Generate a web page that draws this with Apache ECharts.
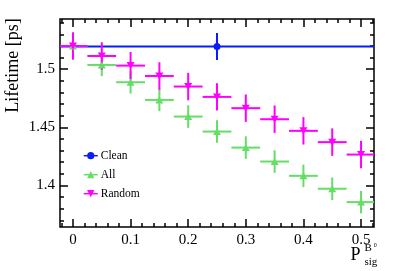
<!DOCTYPE html>
<html>
<head>
<meta charset="utf-8">
<script src="https://cdn.jsdelivr.net/npm/echarts@6/dist/echarts.min.js"></script>
<style>html,body{margin:0;padding:0;background:#fff;}#c{width:399px;height:271px;}</style>
</head>
<body>
<div id="c"></div>
<script>
// ---- data ----
const xBins = [0, 0.05, 0.1, 0.15, 0.2, 0.25, 0.3, 0.35, 0.4, 0.45, 0.5];
const allLifetime = [1.5200, 1.5037, 1.4888, 1.4736, 1.4593, 1.4464, 1.4326, 1.4206, 1.4083, 1.3972, 1.3857];
const allErr = [0.0097, 0.0097, 0.0097, 0.0097, 0.0097, 0.0097, 0.0097, 0.0097, 0.0097, 0.0097, 0.0097];
const randomLifetime = [1.5200, 1.5114, 1.5031, 1.4942, 1.4851, 1.4762, 1.4665, 1.4570, 1.4470, 1.4373, 1.4266];
const randomErr = [0.0118, 0.0118, 0.0118, 0.0118, 0.0118, 0.0118, 0.0118, 0.0118, 0.0118, 0.0118, 0.0118];
const binHalfWidth = 0.025;
const cleanX = [0.25];
const cleanLifetime = [1.5196];
const cleanErr = [0.0116];
const cleanHalfWidth = 0.275;
const xMajorTicks = [0, 0.1, 0.2, 0.3, 0.4, 0.5];
const xMinorTicks = [-0.02, 0.02, 0.04, 0.06, 0.08, 0.12, 0.14, 0.16, 0.18, 0.22, 0.24, 0.26, 0.28,
  0.32, 0.34, 0.36, 0.38, 0.42, 0.44, 0.46, 0.48, 0.52];
const yMajorTicks = [1.4, 1.45, 1.5];
const yMinorTicks = [1.37, 1.38, 1.39, 1.41, 1.42, 1.43, 1.44, 1.46, 1.47, 1.48, 1.49, 1.51, 1.52, 1.53, 1.54];
const xRange = [-0.0225, 0.5225];
const yRange = [1.3643, 1.5432];

// ---- style ----
const FONT = 'Liberation Serif';
const BLUE = '#0a1cff', GREEN = '#66dd66', MAGENTA = '#ff00ff';
const DOWN_TRI = 'path://M0,0 L10,0 L5,9 Z';
const GRID_RECT = { left: 60, right: 25, top: 19, bottom: 44 };

function errRender(color) {
  return function (params, api) {
    const x = api.value(0), y = api.value(1), dx = api.value(2), dy = api.value(3);
    const cs = params.coordSys;
    const cl = v => Math.max(cs.x, Math.min(cs.x + cs.width, v));
    const p0 = api.coord([x - dx, y]), p1 = api.coord([x + dx, y]);
    const q0 = api.coord([x, y - dy]), q1 = api.coord([x, y + dy]);
    return {
      type: 'group', children: [
        { type: 'line', shape: { x1: cl(p0[0]), y1: p0[1], x2: cl(p1[0]), y2: p1[1] }, style: { stroke: color, lineWidth: 2 } },
        { type: 'line', shape: { x1: q0[0], y1: q0[1], x2: q1[0], y2: q1[1] }, style: { stroke: color, lineWidth: 2 } }
      ]
    };
  };
}

const allErrData = xBins.map((x, i) => [x, allLifetime[i], binHalfWidth, allErr[i]]);
const randErrData = xBins.map((x, i) => [x, randomLifetime[i], binHalfWidth, randomErr[i]]);
const cleanErrData = cleanX.map((x, i) => [x, cleanLifetime[i], cleanHalfWidth, cleanErr[i]]);

function xAxisDef(gi, pos, ticks, len, labels) {
  return {
    type: 'value', gridIndex: gi, position: pos, min: xRange[0], max: xRange[1],
    axisLine: { show: false, onZero: false }, splitLine: { show: false },
    axisTick: { show: true, inside: true, length: len, customValues: ticks, lineStyle: { color: '#000', width: 1.5 } },
    axisLabel: labels ? { show: true, customValues: ticks, margin: 6, fontFamily: FONT, fontSize: 15, color: '#000',
      formatter: v => String(Math.round(v * 10) / 10) } : { show: false }
  };
}
function yAxisDef(gi, pos, ticks, len, labels) {
  return {
    type: 'value', gridIndex: gi, position: pos, min: yRange[0], max: yRange[1],
    axisLine: { show: false, onZero: false }, splitLine: { show: false },
    axisTick: { show: true, inside: true, length: len, customValues: ticks, lineStyle: { color: '#000', width: 1.5 } },
    axisLabel: labels ? { show: true, customValues: ticks, margin: 5, fontFamily: FONT, fontSize: 15, color: '#000',
      formatter: v => String(Math.round(v * 100) / 100) } : { show: false }
  };
}

const chart = echarts.init(document.getElementById('c'), null, { renderer: 'canvas' });
chart.setOption({
  animation: false,
  backgroundColor: '#fff',
  grid: [
    Object.assign({ show: true, borderColor: '#000', borderWidth: 1.5, backgroundColor: 'transparent' }, GRID_RECT),
    Object.assign({ show: false }, GRID_RECT),
    Object.assign({ show: false }, GRID_RECT),
    Object.assign({ show: false }, GRID_RECT)
  ],
  xAxis: [
    xAxisDef(0, 'bottom', xMajorTicks, 8, true),
    xAxisDef(1, 'top', xMajorTicks, 8, false),
    xAxisDef(2, 'bottom', xMinorTicks, 4, false),
    xAxisDef(3, 'top', xMinorTicks, 4, false)
  ],
  yAxis: [
    yAxisDef(0, 'left', yMajorTicks, 8, true),
    yAxisDef(1, 'right', yMajorTicks, 8, false),
    yAxisDef(2, 'left', yMinorTicks, 4, false),
    yAxisDef(3, 'right', yMinorTicks, 4, false)
  ],
  legend: {
    orient: 'vertical', left: 83, top: 149.7, padding: 0, itemWidth: 14, itemHeight: 9, itemGap: 7,
    data: ['Clean', 'All', 'Random'],
    textStyle: { fontFamily: FONT, fontSize: 11.5, color: '#000', lineHeight: 12, padding: [0, 0, 0, -2] },
    lineStyle: { opacity: 1, width: 1.5 }
  },
  series: [
    { type: 'custom', name: 'cleanErr', renderItem: errRender(BLUE), data: cleanErrData, encode: { x: 0, y: 1 }, silent: true },
    { type: 'line', name: 'Clean', color: BLUE, data: cleanX.map((x, i) => [x, cleanLifetime[i]]),
      symbol: 'circle', symbolSize: 7, showAllSymbol: true, lineStyle: { opacity: 0, width: 1.5 } },
    { type: 'custom', name: 'allErr', renderItem: errRender(GREEN), data: allErrData, encode: { x: 0, y: 1 }, silent: true },
    { type: 'line', name: 'All', color: GREEN, data: xBins.map((x, i) => [x, allLifetime[i]]),
      symbol: 'triangle', symbolSize: [8, 7], showAllSymbol: true, lineStyle: { opacity: 0, width: 1.5 } },
    { type: 'custom', name: 'randErr', renderItem: errRender(MAGENTA), data: randErrData, encode: { x: 0, y: 1 }, silent: true },
    { type: 'line', name: 'Random', color: MAGENTA, data: xBins.map((x, i) => [x, randomLifetime[i]]),
      symbol: DOWN_TRI, symbolSize: [8, 7], showAllSymbol: true, lineStyle: { opacity: 0, width: 1.5 } }
  ],
  graphic: [
    { type: 'text', x: 13, y: 65.5, rotation: Math.PI / 2,
      style: { text: 'Lifetime [ps]', font: '18px "Liberation Serif"', fill: '#000', textAlign: 'center', textVerticalAlign: 'middle' } },
    { type: 'text', x: 350.5, y: 264, style: { text: 'P', font: '18px "Liberation Serif"', fill: '#000', textAlign: 'left', textVerticalAlign: 'bottom' } },
    { type: 'text', x: 364.5, y: 254, style: { text: 'B', font: '11px "Liberation Serif"', fill: '#000', textAlign: 'left', textVerticalAlign: 'bottom' } },
    { type: 'text', x: 373.8, y: 248.5, style: { text: '0', font: '6px "Liberation Serif"', fill: '#000', textAlign: 'left', textVerticalAlign: 'bottom' } },
    { type: 'text', x: 364.5, y: 268, style: { text: 'sig', font: '11px "Liberation Serif"', fill: '#000', textAlign: 'left', textVerticalAlign: 'bottom' } }
  ]
});
</script>
</body>
</html>
